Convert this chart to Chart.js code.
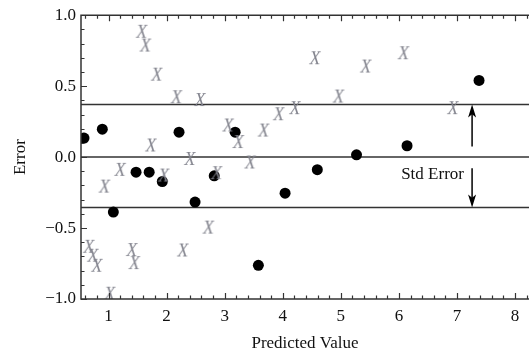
<!DOCTYPE html>
<html><head><meta charset="utf-8">
<script src="https://cdn.jsdelivr.net/npm/chart.js@4"></script>
<style>html,body{margin:0;padding:0;background:#fff;overflow:hidden}</style>
</head><body>
<canvas id="c" width="529" height="356" style="display:block;width:529px;height:356px"></canvas>
<script>
// ---- data ----
const dotX = [0.578, 0.893, 1.083, 1.474, 1.70, 1.926, 2.214, 2.49, 2.82, 3.18, 3.58, 4.04, 4.595, 5.27, 6.14, 7.38];
const dotY = [0.134, 0.197, -0.387, -0.106, -0.106, -0.172, 0.176, -0.317, -0.132, 0.176, -0.763, -0.254, -0.089, 0.016, 0.080, 0.540];
const crossX = [0.66, 0.73, 0.80, 0.93, 1.02, 1.20, 1.40, 1.445, 1.57, 1.635, 1.73, 1.83, 1.95, 2.17, 2.28, 2.40, 2.575, 2.72, 2.86, 3.06, 3.235, 3.44, 3.67, 3.93, 4.21, 4.555, 4.96, 5.43, 6.08, 6.93];
const crossY = [-0.639, -0.702, -0.773, -0.215, -0.97, -0.097, -0.662, -0.754, 0.876, 0.779, 0.075, 0.574, -0.137, 0.415, -0.665, -0.02, 0.395, -0.504, -0.12, 0.216, 0.099, -0.045, 0.18, 0.295, 0.338, 0.69, 0.42, 0.631, 0.725, 0.338];
const refLineY = [0.37, 0, -0.355];
const xTickValues = [1, 2, 3, 4, 5, 6, 7, 8];
const yTickValues = [-1, -0.5, 0, 0.5, 1];
const xRange = [0.526, 8.24];
const yRange = [-1, 1];
const arrowX = 7.26;
const arrowUp = [0.075, 0.37];
const arrowDown = [-0.078, -0.355];
const stdLabel = { text: 'Std Error', x: 7.12, y: -0.125 };
const xTitle = 'Predicted Value';
const yTitle = 'Error';

const SERIF = '"Liberation Serif", "Times New Roman", serif';

function makeCross() {
  const c = document.createElement('canvas');
  c.width = 20; c.height = 20;
  const g = c.getContext('2d');
  g.fillStyle = '#83848e';
  g.font = 'italic 18px ' + SERIF;
  g.textAlign = 'center';
  g.textBaseline = 'middle';
  g.fillText('X', 10, 10.5);
  return c;
}
const crossImg = makeCross();

const pts = (xs, ys) => xs.map((x, i) => ({ x, y: ys[i] }));

const datasets = [
  { label: 'x', data: pts(crossX, crossY), pointStyle: crossImg, pointRadius: 10, showLine: false, order: 0 },
  { label: 'dots', data: pts(dotX, dotY), pointStyle: 'circle', pointRadius: 5.5, backgroundColor: '#000', borderColor: '#000', borderWidth: 0, showLine: false, order: 1 }
];
refLineY.forEach((v, i) => datasets.push({
  type: 'line', label: 'ref' + i, data: [{ x: xRange[0], y: v }, { x: xRange[1], y: v }],
  borderColor: '#333', borderWidth: 1.5, pointRadius: 0, order: 2
}));

const framePlugin = {
  id: 'frame',
  afterDraw(chart) {
    const { ctx, chartArea: a, scales: { x, y } } = chart;
    ctx.save();
    ctx.strokeStyle = '#333';
    ctx.lineWidth = 1.5;
    ctx.beginPath();
    ctx.moveTo(a.right + 2, a.top); ctx.lineTo(a.left, a.top); ctx.lineTo(a.left, a.bottom); ctx.lineTo(a.right + 2, a.bottom);
    ctx.stroke();
    ctx.lineWidth = 1.2;
    ctx.beginPath();
    for (let k = Math.ceil(xRange[0] / 0.2); k * 0.2 <= xRange[1] + 1e-9; k++) {
      const v = k * 0.2;
      const major = Math.abs(v - Math.round(v)) < 1e-6;
      const L = major ? 6 : 3.5;
      const px = Math.round(x.getPixelForValue(v)) + 0.5;
      ctx.moveTo(px, a.bottom); ctx.lineTo(px, a.bottom - L);
      ctx.moveTo(px, a.top); ctx.lineTo(px, a.top + L);
    }
    for (let k = -10; k <= 10; k++) {
      const v = k / 10;
      const major = k % 5 === 0;
      const L = major ? 6 : 3.5;
      const py = Math.round(y.getPixelForValue(v)) + 0.5;
      ctx.moveTo(a.left, py); ctx.lineTo(a.left + L, py);
    }
    ctx.stroke();

    // arrows
    ctx.strokeStyle = '#000'; ctx.fillStyle = '#000'; ctx.lineWidth = 1.5;
    const ax = x.getPixelForValue(arrowX);
    const drawArrow = (from, to) => {
      const y0 = y.getPixelForValue(from), y1 = y.getPixelForValue(to);
      const dir = Math.sign(y1 - y0);
      const head = 13, hw = 4;
      ctx.beginPath(); ctx.moveTo(ax, y0); ctx.lineTo(ax, y1 - dir * head * 0.6); ctx.stroke();
      ctx.beginPath(); ctx.moveTo(ax, y1); ctx.lineTo(ax - hw, y1 - dir * head); ctx.lineTo(ax, y1 - dir * head * 0.75); ctx.lineTo(ax + hw, y1 - dir * head); ctx.closePath(); ctx.fill();
    };
    drawArrow(arrowUp[0], arrowUp[1]);
    drawArrow(arrowDown[0], arrowDown[1]);

    ctx.font = '17px ' + SERIF;
    ctx.fillStyle = '#111';
    ctx.textAlign = 'right'; ctx.textBaseline = 'middle';
    ctx.fillText(stdLabel.text, x.getPixelForValue(stdLabel.x), y.getPixelForValue(stdLabel.y));
    ctx.restore();
  }
};

new Chart(document.getElementById('c'), {
  type: 'scatter',
  data: { datasets },
  options: {
    responsive: false,
    animation: false,
    devicePixelRatio: 1,
    layout: { autoPadding: false, padding: { top: 15, right: 0, left: 0, bottom: 0 } },
    plugins: { legend: { display: false }, tooltip: { enabled: false } },
    scales: {
      x: {
        type: 'linear', min: xRange[0], max: xRange[1],
        grid: { display: false, drawTicks: false }, border: { display: false },
        afterBuildTicks: s => { s.ticks = xTickValues.map(v => ({ value: v })); },
        afterFit: s => { s.height = 57; },
        ticks: { color: '#111', font: { family: SERIF, size: 17 }, padding: 7, maxRotation: 0, autoSkip: false, callback: v => String(v) },
        title: { display: true, text: xTitle, color: '#111', font: { family: SERIF, size: 17 }, padding: { top: 0, bottom: 2 } }
      },
      y: {
        type: 'linear', min: yRange[0], max: yRange[1],
        grid: { display: false, drawTicks: false }, border: { display: false },
        afterBuildTicks: s => { s.ticks = yTickValues.map(v => ({ value: v })); },
        afterFit: s => { s.width = 81; },
        ticks: { color: '#111', font: { family: SERIF, size: 17 }, padding: 5, autoSkip: false,
          callback: v => (v < 0 ? '\u2212' : '') + Math.abs(v).toFixed(1) },
        title: { display: true, text: yTitle, color: '#111', font: { family: SERIF, size: 17 }, padding: { top: 10, bottom: 0 } }
      }
    }
  },
  plugins: [framePlugin]
});
</script>
</body></html>
